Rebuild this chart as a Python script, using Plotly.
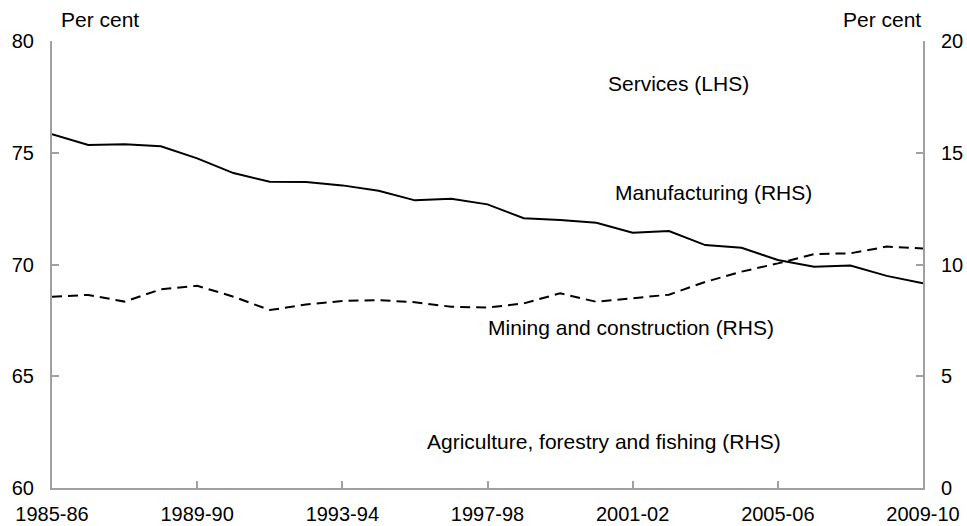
import plotly.graph_objects as go

# Financial years shown on the horizontal axis
years = [f"{y}-{str(y + 1)[-2:]}" for y in range(1985, 2010)]
tick_years = ["1985-86", "1989-90", "1993-94", "1997-98", "2001-02", "2005-06", "2009-10"]

# Shares of output, per cent (right-hand scale)
manufacturing = [15.83, 15.35, 15.38, 15.29, 14.75, 14.09, 13.70, 13.69, 13.54, 13.30,
                 12.87, 12.94, 12.69, 12.07, 11.99, 11.87, 11.42, 11.50, 10.87, 10.75,
                 10.20, 9.90, 9.95, 9.49, 9.16]
mining_construction = [8.56, 8.64, 8.34, 8.89, 9.05, 8.56, 7.96, 8.21, 8.37, 8.41,
                       8.31, 8.11, 8.07, 8.26, 8.71, 8.33, 8.49, 8.65, 9.22, 9.68,
                       10.05, 10.47, 10.50, 10.80, 10.72]

lhs_ticks = [60, 65, 70, 75, 80]
rhs_ticks = [0, 5, 10, 15, 20]

FONT = "Liberation Sans, Arial, sans-serif"
AXIS_GREY = "#a0a0a0"
TICK_SIZE = 20
LABEL_SIZE = 21

fig = go.Figure()
# empty series that anchors the left-hand scale
fig.add_trace(go.Scatter(x=[years[0]], y=[None], mode="lines", yaxis="y",
                         hoverinfo="skip", showlegend=False))
fig.add_trace(go.Scatter(x=years, y=manufacturing, mode="lines", yaxis="y2",
                         line=dict(color="black", width=2), name="Manufacturing (RHS)"))
fig.add_trace(go.Scatter(x=years, y=mining_construction, mode="lines", yaxis="y2",
                         line=dict(color="black", width=2, dash="10px,6px"),
                         name="Mining and construction (RHS)"))

axis_common = dict(showline=True, linecolor=AXIS_GREY, linewidth=2, ticks="inside",
                   ticklen=7, tickwidth=2, tickcolor=AXIS_GREY, showgrid=False,
                   zeroline=False, automargin=False,
                   tickfont=dict(family=FONT, size=TICK_SIZE, color="black"))

fig.update_layout(
    width=967, height=526,
    margin=dict(l=52, r=44, t=41, b=38),
    paper_bgcolor="white", plot_bgcolor="white",
    showlegend=False,
    font=dict(family=FONT, size=LABEL_SIZE, color="black"),
    xaxis=dict(type="category", categoryorder="array", categoryarray=years,
               range=[0, len(years) - 1], tickvals=tick_years, ticktext=tick_years,
               ticklabelstandoff=7, **axis_common),
    yaxis=dict(range=[60, 80], tickvals=lhs_ticks, ticklabelstandoff=12, **axis_common),
    yaxis2=dict(range=[0, 20], tickvals=rhs_ticks, overlaying="y", side="right",
                ticklabelstandoff=12, **axis_common),
)

labels = [
    ("Services (LHS)", 0.719, 0.906),
    ("Manufacturing (RHS)", 0.760, 0.662),
    ("Mining and construction (RHS)", 0.665, 0.360),
    ("Agriculture, forestry and fishing (RHS)", 0.634, 0.105),
]
for text, x, y in labels:
    fig.add_annotation(text=text, x=x, y=y, xref="paper", yref="paper",
                       showarrow=False, xanchor="center", yanchor="middle",
                       font=dict(family=FONT, size=LABEL_SIZE, color="black"))

fig.add_annotation(text="Per cent", x=0.008, y=1.049, xref="paper", yref="paper",
                   showarrow=False, xanchor="left", yanchor="middle",
                   font=dict(family=FONT, size=LABEL_SIZE, color="black"))
fig.add_annotation(text="Per cent", x=1.0, y=1.049, xref="paper", yref="paper",
                   showarrow=False, xanchor="right", yanchor="middle",
                   font=dict(family=FONT, size=LABEL_SIZE, color="black"))

fig.write_html("out.html")
